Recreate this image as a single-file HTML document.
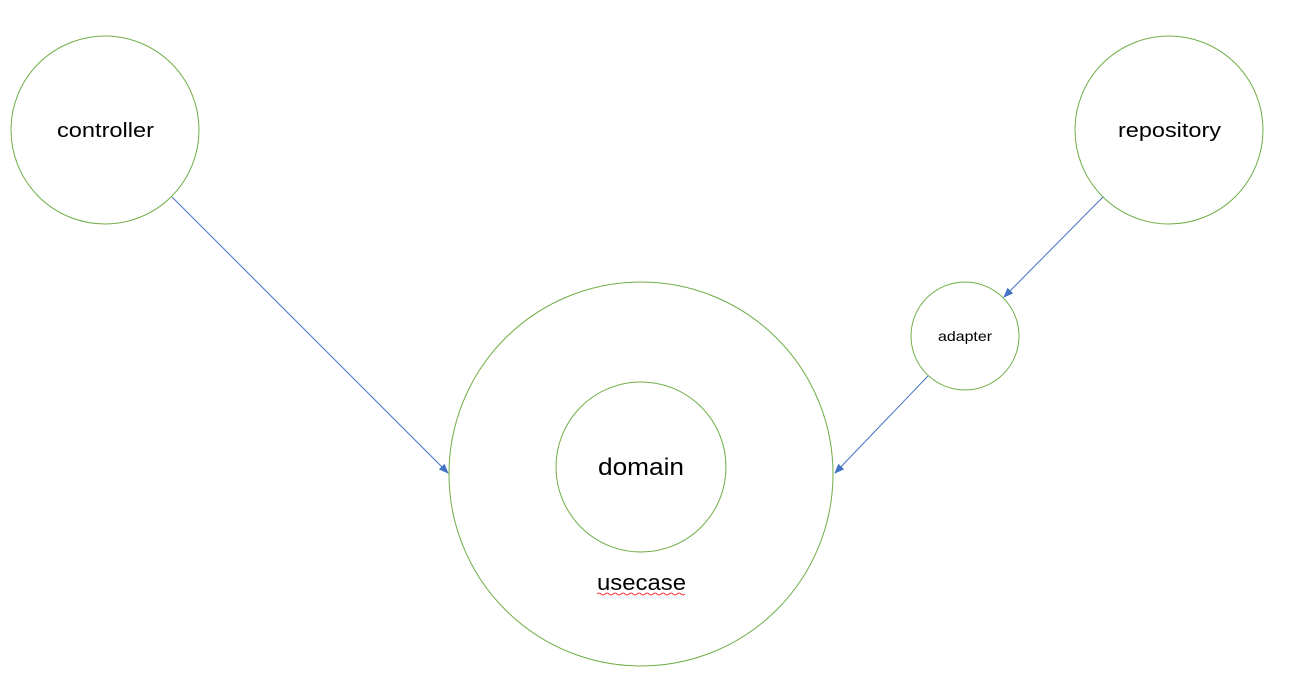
<!DOCTYPE html>
<html><head><meta charset="utf-8"><style>
html,body{margin:0;padding:0;background:#fff;}
svg{display:block;}
text{font-family:"Liberation Sans","Noto Sans CJK KR",sans-serif;fill:#000;}
</style></head><body>
<svg width="1303" height="682" viewBox="0 0 1303 682" xmlns="http://www.w3.org/2000/svg">
<defs>
<marker id="a" markerWidth="10" markerHeight="8" refX="9" refY="4" orient="auto" markerUnits="userSpaceOnUse">
<path d="M0,0 L10,4 L0,8 z" fill="#4472c4"/>
</marker>
</defs>
<g fill="none" stroke="#70ad47" stroke-width="1">
<circle cx="105" cy="130" r="94"/>
<circle cx="1169" cy="130" r="94"/>
<circle cx="641" cy="474" r="192"/>
<circle cx="641" cy="467" r="85"/>
<circle cx="965" cy="336" r="54"/>
</g>
<g stroke="#4472c4" stroke-width="1">
<line x1="172" y1="197" x2="448" y2="473" marker-end="url(#a)"/>
<line x1="1103" y1="197" x2="1004" y2="297" marker-end="url(#a)"/>
<line x1="928" y1="376" x2="835" y2="473" marker-end="url(#a)"/>
</g>
<text x="57" y="137" font-size="20" textLength="97" lengthAdjust="spacingAndGlyphs">controller</text>
<text x="1118" y="137" font-size="20" textLength="103" lengthAdjust="spacingAndGlyphs">repository</text>
<text x="938" y="341" font-size="14" textLength="54" lengthAdjust="spacingAndGlyphs">adapter</text>
<text x="598" y="475" font-size="24" textLength="86" lengthAdjust="spacingAndGlyphs">domain</text>
<text x="597" y="590" font-size="22" textLength="89" lengthAdjust="spacingAndGlyphs">usecase</text>
<path d="M597,594 q2,-2 4,0 t4,0 t4,0 t4,0 t4,0 t4,0 t4,0 t4,0 t4,0 t4,0 t4,0 t4,0 t4,0 t4,0 t4,0 t4,0 t4,0 t4,0 t4,0 t4,0 t4,0 t4,0" fill="none" stroke="#e00" stroke-width="0.8"/>
</svg>
</body></html>
